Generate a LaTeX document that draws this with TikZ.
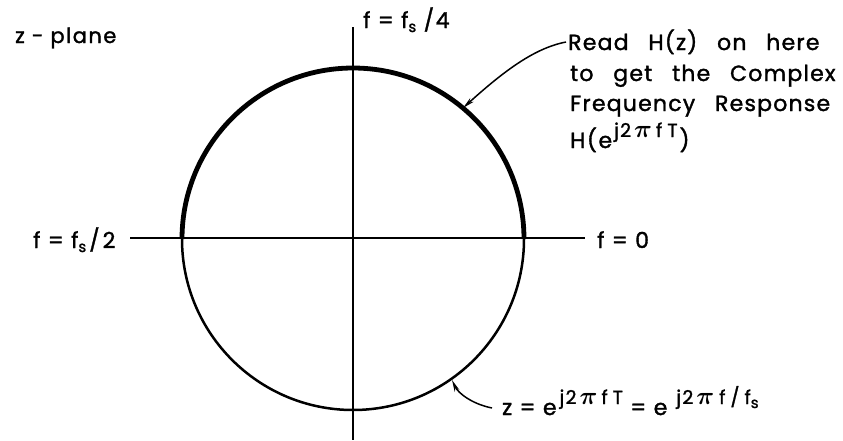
\documentclass[tikz,border=0pt]{standalone}
\usepackage{fontspec}
\setmainfont{Poppins}[LetterSpace=7,FakeBold=1.5]
\newfontfamily\bodyfont{Poppins}[LetterSpace=5.5,WordSpace=2.8,FakeBold=1.5]
\usetikzlibrary{arrows.meta}
\newcommand{\pisym}{{\fontsize{23}{23}\selectfont\boldmath$\pi$}}
\newcommand{\subs}{\raisebox{-4pt}{\fontsize{15}{15}\selectfont s}}
\newcommand{\sups}[1]{\raisebox{11pt}{\fontsize{19}{19}\selectfont #1}}
\newcommand{\expA}{j2\hspace{3pt}\pisym\hspace{4pt}f\hspace{5pt}T}
\newcommand{\expB}{j2\hspace{3pt}\pisym\hspace{5pt}f\hspace{5pt}/\hspace{5pt}f\subs}
\begin{document}
\begin{tikzpicture}[x=1pt,y=-1pt,
  axisline/.style={line width=1.3pt},
  thickarc/.style={line width=4.8pt},
  thinarc/.style={line width=2.5pt},
  lbl/.style={anchor=base west, inner sep=0pt, font=\fontsize{22}{22}\selectfont},
  body/.style={lbl, font=\fontsize{22}{22}\selectfont\bodyfont},
  conn/.style={line width=1.5pt, -{Stealth[length=12pt,width=5pt]}}]
\useasboundingbox (0,0) rectangle (843,440);
% axes
\coordinate (hl) at (130,238);
\coordinate (hr) at (585,238);
\coordinate (vt) at (353,27);
\coordinate (vb) at (353,440);
\draw[axisline] (hl) -- (hr);
\draw[axisline] (vt) -- (vb);
% unit circle
\coordinate (c) at (353,239);
\draw[thickarc] (182,239) arc[start angle=180, end angle=360, radius=171];
\draw[thinarc] (524,239) arc[start angle=0, end angle=180, radius=171];
% labels
\node[lbl, font=\fontsize{21}{21}\selectfont] (zp) at (15,43) {z - plane};
\node[lbl] (f4) at (363,28) {f = f\subs\ /4};
\node[lbl] (f2) at (33,248) {f = f\subs\hspace{3pt}/\hspace{3pt}2};
\node[lbl] (f0) at (597,248) {f = 0};
\node[body] (r1) at (568,50) {Read H(z) on here};
\node[body] (r2) at (570,81) {to get the Complex};
\node[body] (r3) at (570,111) {Frequency Response};
\node[lbl] (r4) at (570,148) {H(e\hspace{2pt}\sups{\expA}\hspace{2pt})};
\node[lbl] (zf) at (502,415) {z = e\hspace{3pt}\sups{\expA} = e\hspace{9pt}\sups{\expB}};
% connectors
\coordinate (p1) at (463,108);
\coordinate (p2) at (452,380);
\draw[conn] ([xshift=-2pt,yshift=8pt]r1.base west) .. controls (535,48) and (505,70) .. (p1);
\draw[conn] ([xshift=-10pt,yshift=7pt]zf.base west) .. controls (472,404) and (458,393) .. (p2);
\end{tikzpicture}
\end{document}
